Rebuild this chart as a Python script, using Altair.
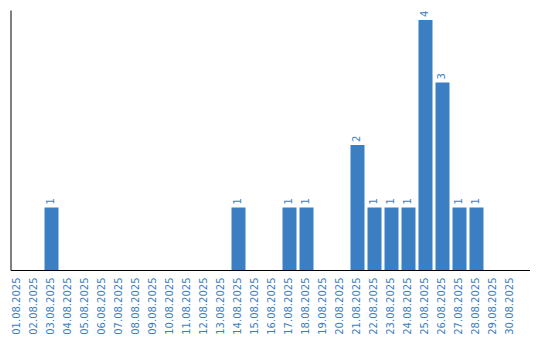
import altair as alt
import pandas as pd

dates = [f"{d:02d}.08.2025" for d in range(1, 31)]
counts = [0, 0, 1, 0, 0, 0, 0, 0, 0, 0,
          0, 0, 0, 1, 0, 0, 1, 1, 0, 0,
          2, 1, 1, 1, 4, 3, 1, 1, 0, 0]

df = pd.DataFrame({"date": dates, "count": counts})

BLUE = "#3b7ec2"
FONT = "DejaVu Sans"

x = alt.X("date:N", sort=None, title=None,
          scale=alt.Scale(paddingInner=0.1765, paddingOuter=0.353, align=0),
          axis=alt.Axis(labelAngle=270, labelAlign="right", labelBaseline="middle",
                        ticks=False, labelPadding=7, labelColor=BLUE,
                        labelFont=FONT, labelFontSize=10, domainColor="#000000",
                        domainWidth=1, grid=False, labelOverlap=False))
y = alt.Y("count:Q", title=None,
          scale=alt.Scale(domain=[0, 4.16], nice=False),
          axis=alt.Axis(labels=False, ticks=False, grid=False,
                        domainColor="#000000", domainWidth=1))

base = alt.Chart(df)
bars = base.mark_bar(color=BLUE).encode(x=x, y=y)
texts = base.transform_filter("datum.count > 0").mark_text(
    angle=270, align="left", baseline="middle", dx=3,
    color=BLUE, font=FONT, fontSize=10
).encode(x=x, y=y, text="count:Q")

chart = (bars + texts).properties(
    width=519, height=260,
    autosize=alt.AutoSizeParams(type="none"),
    padding={"left": 10.5, "top": 10, "right": 10, "bottom": 70},
    background="#ffffff",
).configure_view(stroke=None)

chart.save("out.html", embed_options={"renderer": "svg", "actions": False})
